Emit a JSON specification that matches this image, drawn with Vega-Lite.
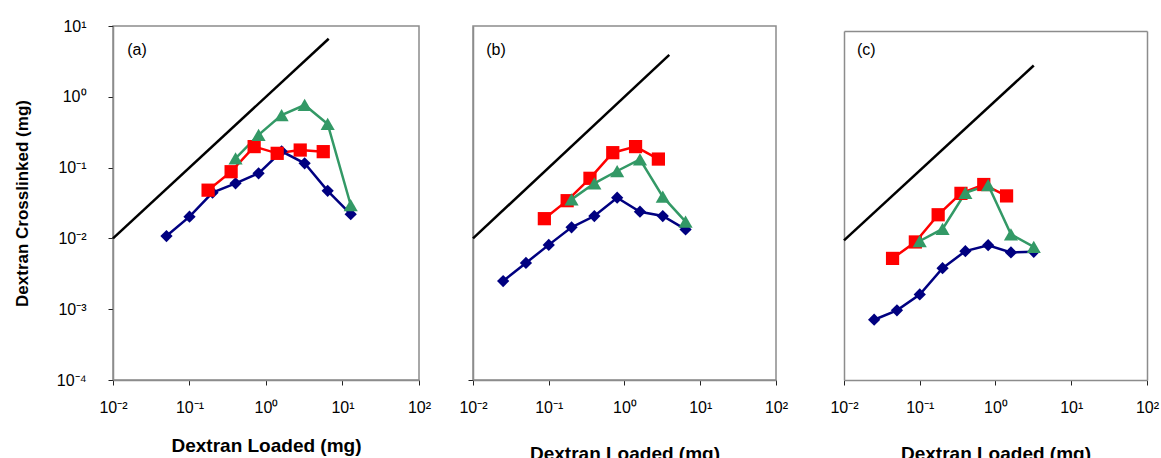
{
  "$schema": "https://vega.github.io/schema/vega-lite/v6.json",
  "background": "white",
  "padding": {"left": 12, "top": 17, "right": 5, "bottom": 5},
  "spacing": 26,
  "config": {
    "font": "Liberation Sans",
    "view": {"stroke": "#8c8c8c", "strokeWidth": 1.5},
    "axis": {
      "grid": false,
      "labelFlush": false,
      "domainColor": "#8c8c8c",
      "domainWidth": 1.5,
      "tickColor": "#222222",
      "tickSize": 5,
      "labelFont": "Liberation Sans",
      "labelFontSize": 16,
      "labelColor": "black",
      "titleFont": "Liberation Sans",
      "titleFontSize": 17,
      "titleFontWeight": "bold",
      "titleColor": "black"
    },
    "axisX": {"titleFontSize": 19}
  },
  "datasets": {
    "pts": [
      {"panel": "a", "series": "S1", "x": 0.05, "y": 0.0108},
      {"panel": "a", "series": "S1", "x": 0.1, "y": 0.0203},
      {"panel": "a", "series": "S1", "x": 0.2, "y": 0.0443},
      {"panel": "a", "series": "S1", "x": 0.4, "y": 0.060},
      {"panel": "a", "series": "S1", "x": 0.8, "y": 0.083},
      {"panel": "a", "series": "S1", "x": 1.6, "y": 0.17},
      {"panel": "a", "series": "S1", "x": 3.2, "y": 0.115},
      {"panel": "a", "series": "S1", "x": 6.4, "y": 0.047},
      {"panel": "a", "series": "S1", "x": 12.8, "y": 0.022},
      {"panel": "a", "series": "S2", "x": 0.175, "y": 0.048},
      {"panel": "a", "series": "S2", "x": 0.35, "y": 0.0875},
      {"panel": "a", "series": "S2", "x": 0.7, "y": 0.198},
      {"panel": "a", "series": "S2", "x": 1.4, "y": 0.159},
      {"panel": "a", "series": "S2", "x": 2.8, "y": 0.177},
      {"panel": "a", "series": "S2", "x": 5.6, "y": 0.168},
      {"panel": "a", "series": "S3", "x": 0.4, "y": 0.135},
      {"panel": "a", "series": "S3", "x": 0.8, "y": 0.29},
      {"panel": "a", "series": "S3", "x": 1.6, "y": 0.553},
      {"panel": "a", "series": "S3", "x": 3.2, "y": 0.766},
      {"panel": "a", "series": "S3", "x": 6.4, "y": 0.413},
      {"panel": "a", "series": "S3", "x": 12.8, "y": 0.0296},
      {"panel": "b", "series": "S1", "x": 0.025, "y": 0.0025},
      {"panel": "b", "series": "S1", "x": 0.05, "y": 0.0045},
      {"panel": "b", "series": "S1", "x": 0.1, "y": 0.0081},
      {"panel": "b", "series": "S1", "x": 0.2, "y": 0.01435},
      {"panel": "b", "series": "S1", "x": 0.4, "y": 0.0207},
      {"panel": "b", "series": "S1", "x": 0.8, "y": 0.0376},
      {"panel": "b", "series": "S1", "x": 1.6, "y": 0.0238},
      {"panel": "b", "series": "S1", "x": 3.2, "y": 0.0207},
      {"panel": "b", "series": "S1", "x": 6.4, "y": 0.0134},
      {"panel": "b", "series": "S2", "x": 0.0875, "y": 0.019},
      {"panel": "b", "series": "S2", "x": 0.175, "y": 0.0341},
      {"panel": "b", "series": "S2", "x": 0.35, "y": 0.0706},
      {"panel": "b", "series": "S2", "x": 0.7, "y": 0.1625},
      {"panel": "b", "series": "S2", "x": 1.4, "y": 0.198},
      {"panel": "b", "series": "S2", "x": 2.8, "y": 0.132},
      {"panel": "b", "series": "S3", "x": 0.2, "y": 0.0356},
      {"panel": "b", "series": "S3", "x": 0.4, "y": 0.060},
      {"panel": "b", "series": "S3", "x": 0.8, "y": 0.0895},
      {"panel": "b", "series": "S3", "x": 1.6, "y": 0.131},
      {"panel": "b", "series": "S3", "x": 3.2, "y": 0.0388},
      {"panel": "b", "series": "S3", "x": 6.4, "y": 0.0173},
      {"panel": "c", "series": "S1", "x": 0.025, "y": 0.00073},
      {"panel": "c", "series": "S1", "x": 0.05, "y": 0.000995},
      {"panel": "c", "series": "S1", "x": 0.1, "y": 0.00168},
      {"panel": "c", "series": "S1", "x": 0.2, "y": 0.0040},
      {"panel": "c", "series": "S1", "x": 0.4, "y": 0.00702},
      {"panel": "c", "series": "S1", "x": 0.8, "y": 0.00853},
      {"panel": "c", "series": "S1", "x": 1.6, "y": 0.00671},
      {"panel": "c", "series": "S1", "x": 3.2, "y": 0.00686},
      {"panel": "c", "series": "S2", "x": 0.04375, "y": 0.00552},
      {"panel": "c", "series": "S2", "x": 0.0875, "y": 0.0095},
      {"panel": "c", "series": "S2", "x": 0.175, "y": 0.0233},
      {"panel": "c", "series": "S2", "x": 0.35, "y": 0.0472},
      {"panel": "c", "series": "S2", "x": 0.7, "y": 0.0632},
      {"panel": "c", "series": "S2", "x": 1.4, "y": 0.0434},
      {"panel": "c", "series": "S3", "x": 0.1, "y": 0.0098},
      {"panel": "c", "series": "S3", "x": 0.2, "y": 0.0146},
      {"panel": "c", "series": "S3", "x": 0.4, "y": 0.048},
      {"panel": "c", "series": "S3", "x": 0.8, "y": 0.062},
      {"panel": "c", "series": "S3", "x": 1.6, "y": 0.0122},
      {"panel": "c", "series": "S3", "x": 3.2, "y": 0.0081}
    ],
    "diag": [
      {"panel": "a", "x": 0.01, "y": 0.01},
      {"panel": "a", "x": 6.6, "y": 6.6},
      {"panel": "b", "x": 0.01, "y": 0.01},
      {"panel": "b", "x": 3.9, "y": 3.9},
      {"panel": "c", "x": 0.01, "y": 0.01},
      {"panel": "c", "x": 3.2, "y": 3.2}
    ],
    "lab": [
      {"panel": "a", "label": "(a)", "x": 0.0206, "y": 4.6},
      {"panel": "b", "label": "(b)", "x": 0.0201, "y": 4.6},
      {"panel": "c", "label": "(c)", "x": 0.0197, "y": 5.35}
    ]
  },
  "hconcat": [
    {
      "width": 306,
      "height": 354,
      "encoding": {
        "x": {"field": "x", "type": "quantitative", "scale": {"type": "log", "domain": [0.01, 100]},
          "axis": {"title": "Dextran Loaded (mg)", "values": [0.01, 0.1, 1, 10, 100], "labelPadding": 14, "titlePadding": 21,
            "labelExpr": "['10⁻⁴','10⁻³','10⁻²','10⁻¹','10⁰','10¹','10²'][round(log(datum.value)/LN10)+4]"}},
        "y": {"field": "y", "type": "quantitative", "scale": {"type": "log", "domain": [0.0001, 10]},
          "axis": {"title": "Dextran Crosslinked (mg)", "values": [0.0001, 0.001, 0.01, 0.1, 1, 10], "labelPadding": 22, "titlePadding": 25,
            "labelExpr": "['10⁻⁴','10⁻³','10⁻²','10⁻¹','10⁰','10¹','10²'][round(log(datum.value)/LN10)+4]"}}
      },
      "layer": [
        {"data": {"name": "diag"}, "transform": [{"filter": "datum.panel == 'a'"}], "mark": {"type": "line", "color": "black", "strokeWidth": 2.5}},
        {"data": {"name": "pts"}, "transform": [{"filter": "datum.panel == 'a'"}], "mark": {"type": "line", "strokeWidth": 2.5},
          "encoding": {"color": {"field": "series", "type": "nominal", "scale": {"domain": ["S1", "S2", "S3"], "range": ["#000080", "#ff0000", "#339966"]}, "legend": null}}},
        {"data": {"name": "pts"}, "transform": [{"filter": "datum.panel == 'a'"}], "mark": {"type": "point", "filled": true, "opacity": 1},
          "encoding": {
            "color": {"field": "series", "type": "nominal", "scale": {"domain": ["S1", "S2", "S3"], "range": ["#000080", "#ff0000", "#339966"]}, "legend": null},
            "shape": {"field": "series", "type": "nominal", "scale": {"domain": ["S1", "S2", "S3"], "range": ["diamond", "square", "triangle-up"]}, "legend": null},
            "size": {"field": "series", "type": "nominal", "scale": {"domain": ["S1", "S2", "S3"], "range": [150, 200, 170]}, "legend": null}}},
        {"data": {"name": "lab"}, "transform": [{"filter": "datum.panel == 'a'"}], "mark": {"type": "text", "fontSize": 16, "align": "center", "baseline": "middle", "color": "black"},
          "encoding": {"text": {"field": "label"}}}
      ]
    },
    {
      "width": 303,
      "height": 354,
      "encoding": {
        "x": {"field": "x", "type": "quantitative", "scale": {"type": "log", "domain": [0.01, 100]},
          "axis": {"title": "Dextran Loaded (mg)", "values": [0.01, 0.1, 1, 10, 100], "labelPadding": 14, "titlePadding": 29,
            "labelExpr": "['10⁻⁴','10⁻³','10⁻²','10⁻¹','10⁰','10¹','10²'][round(log(datum.value)/LN10)+4]"}},
        "y": {"field": "y", "type": "quantitative", "scale": {"type": "log", "domain": [0.0001, 10]},
          "axis": {"title": null, "values": [0.0001], "labels": false, "ticks": true}}
      },
      "layer": [
        {"data": {"name": "diag"}, "transform": [{"filter": "datum.panel == 'b'"}], "mark": {"type": "line", "color": "black", "strokeWidth": 2.5}},
        {"data": {"name": "pts"}, "transform": [{"filter": "datum.panel == 'b'"}], "mark": {"type": "line", "strokeWidth": 2.5},
          "encoding": {"color": {"field": "series", "type": "nominal", "scale": {"domain": ["S1", "S2", "S3"], "range": ["#000080", "#ff0000", "#339966"]}, "legend": null}}},
        {"data": {"name": "pts"}, "transform": [{"filter": "datum.panel == 'b'"}], "mark": {"type": "point", "filled": true, "opacity": 1},
          "encoding": {
            "color": {"field": "series", "type": "nominal", "scale": {"domain": ["S1", "S2", "S3"], "range": ["#000080", "#ff0000", "#339966"]}, "legend": null},
            "shape": {"field": "series", "type": "nominal", "scale": {"domain": ["S1", "S2", "S3"], "range": ["diamond", "square", "triangle-up"]}, "legend": null},
            "size": {"field": "series", "type": "nominal", "scale": {"domain": ["S1", "S2", "S3"], "range": [150, 200, 170]}, "legend": null}}},
        {"data": {"name": "lab"}, "transform": [{"filter": "datum.panel == 'b'"}], "mark": {"type": "text", "fontSize": 16, "align": "center", "baseline": "middle", "color": "black"},
          "encoding": {"text": {"field": "label"}}}
      ]
    },
    {
      "width": 303,
      "height": 354,
      "view": {"stroke": null},
      "resolve": {"axis": {"x": "independent", "y": "independent"}},
      "encoding": {
        "x": {"field": "x", "type": "quantitative", "scale": {"type": "log", "domain": [0.01, 100]}, "axis": null},
        "y": {"field": "y", "type": "quantitative", "scale": {"type": "log", "domain": [0.0001, 10], "range": [354, 5]}, "axis": null}
      },
      "layer": [
        {"data": {"name": "diag"}, "transform": [{"filter": "datum.panel == 'c'"}], "mark": {"type": "line", "color": "black", "strokeWidth": 2.5}},
        {"data": {"name": "pts"}, "transform": [{"filter": "datum.panel == 'c'"}], "mark": {"type": "line", "strokeWidth": 2.5},
          "encoding": {"color": {"field": "series", "type": "nominal", "scale": {"domain": ["S1", "S2", "S3"], "range": ["#000080", "#ff0000", "#339966"]}, "legend": null}}},
        {"data": {"name": "pts"}, "transform": [{"filter": "datum.panel == 'c'"}], "mark": {"type": "point", "filled": true, "opacity": 1},
          "encoding": {
            "color": {"field": "series", "type": "nominal", "scale": {"domain": ["S1", "S2", "S3"], "range": ["#000080", "#ff0000", "#339966"]}, "legend": null},
            "shape": {"field": "series", "type": "nominal", "scale": {"domain": ["S1", "S2", "S3"], "range": ["diamond", "square", "triangle-up"]}, "legend": null},
            "size": {"field": "series", "type": "nominal", "scale": {"domain": ["S1", "S2", "S3"], "range": [150, 200, 170]}, "legend": null}}},
        {"data": {"name": "lab"}, "transform": [{"filter": "datum.panel == 'c'"}], "mark": {"type": "text", "fontSize": 16, "align": "center", "baseline": "middle", "color": "black"},
          "encoding": {
            "text": {"field": "label"},
            "x": {"field": "x", "type": "quantitative", "scale": {"type": "log", "domain": [0.01, 100]},
              "axis": {"title": "Dextran Loaded (mg)", "values": [0.01, 0.1, 1, 10, 100], "labelPadding": 14, "titlePadding": 29,
                "labelExpr": "['10⁻⁴','10⁻³','10⁻²','10⁻¹','10⁰','10¹','10²'][round(log(datum.value)/LN10)+4]"}},
            "y": {"field": "y", "type": "quantitative", "scale": {"type": "log", "domain": [0.0001, 10], "range": [354, 5]},
              "axis": {"title": null, "values": [0.0001, 10], "labels": false, "ticks": true, "tickSize": 29, "tickOpacity": 0}}
          }},
        {"data": {"name": "lab"}, "transform": [{"filter": "datum.panel == 'c'"}], "mark": {"type": "text", "fontSize": 16, "opacity": 0},
          "encoding": {
            "text": {"field": "label"},
            "x": {"field": "x", "type": "quantitative", "scale": {"type": "log", "domain": [0.01, 100]},
              "axis": {"orient": "top", "title": null, "labels": false, "ticks": false, "offset": -5}},
            "y": {"field": "y", "type": "quantitative", "scale": {"type": "log", "domain": [0.0001, 10], "range": [354, 5]},
              "axis": {"orient": "right", "title": null, "labels": false, "ticks": false}}
          }}
      ]
    }
  ]
}
